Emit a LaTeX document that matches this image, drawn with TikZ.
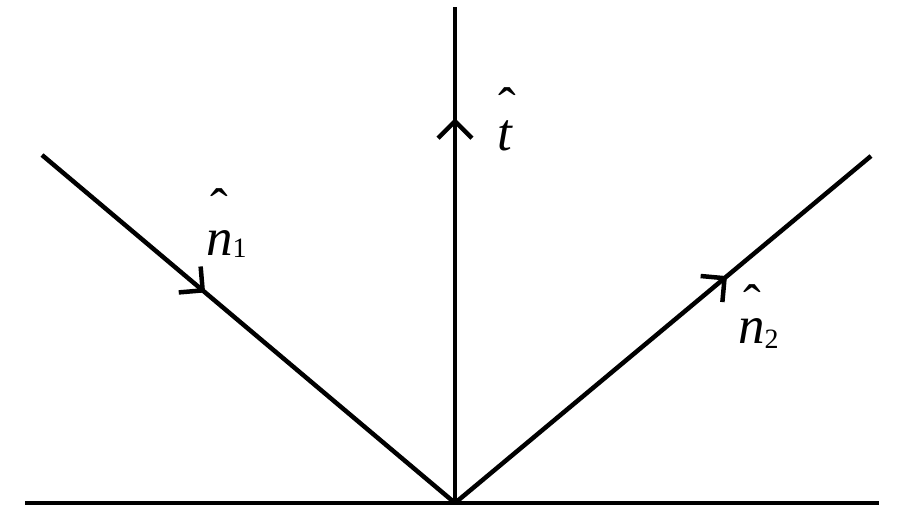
\documentclass[tikz,border=0pt]{standalone}
\usepackage{fontspec}
\setmainfont{Liberation Serif}
\usetikzlibrary{arrows.meta,decorations.markings}
\newcommand\hatted[3]{\rlap{\kern#2\raisebox{#3}{\upshape\char"02C6}}\textit{#1}}
\newcommand\subs[2]{\raisebox{-#2}{\fontsize{28}{28}\selectfont\upshape #1}}
\tikzset{
  ray/.style={draw=black, line width=4.5pt},
  barb/.style={postaction={decorate}, decoration={markings,
      mark=at position #1 with {\arrow{Straight Barb[angle=90:24pt, line width=4.5pt]}}}},
  lbl/.style={anchor=base west, inner sep=0pt, font=\fontsize{53}{53}\selectfont}
}
\begin{document}
\begin{tikzpicture}[x=1pt,y=-1pt]
\useasboundingbox (0,0) rectangle (900,525);
\coordinate (O) at (455,503);
\coordinate (L) at (25,503);
\coordinate (R) at (879,503);
\coordinate (T) at (455,7);
\coordinate (A) at (42,155);
\coordinate (B) at (871,156);
\draw[ray] (L) -- (R);
\draw[ray, barb=0.776] (O) -- (T);
\draw[ray, barb=0.395] (A) -- (O);
\draw[ray, barb=0.654] (O) -- (B);
\node[lbl] (t) at (497,150) {\hatted{t}{1pt}{26pt}};
\node[lbl] (n1) at (206,255) {\hatted{n}{4pt}{30pt}\subs{1}{2pt}};
\node[lbl] (n2) at (738,343) {\hatted{n}{5pt}{22pt}\subs{2}{5pt}};
\end{tikzpicture}
\end{document}
